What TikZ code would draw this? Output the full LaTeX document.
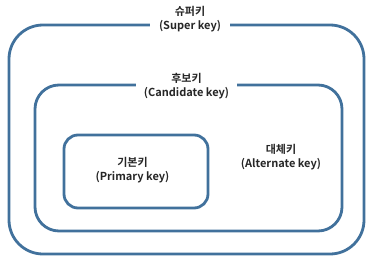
\documentclass[tikz,border=0pt]{standalone}
\usepackage{fontspec}
\setmainfont{Noto Sans CJK KR}[BoldFont={Noto Sans CJK KR Bold}]
\definecolor{boxblue}{HTML}{41719C}
\tikzset{
  keybox/.style={draw=boxblue, line width=2.8pt, inner sep=0pt},
  keylabel/.style={font=\bfseries\fontsize{11}{14}\selectfont, align=center, text=black!85, inner ysep=1pt},
  gaplabel/.style={keylabel, fill=white, inner xsep=6pt}
}
\begin{document}
\begin{tikzpicture}[x=1pt, y=-1pt]
  \useasboundingbox (0,0) rectangle (371,262);
  \node[keybox, minimum width=355pt, minimum height=229pt, rounded corners=34pt] (super) at (186.5,139.5) {};
  \node[keybox, minimum width=307pt, minimum height=146pt, rounded corners=24pt] (cand) at (188.5,158) {};
  \node[keybox, minimum width=144pt, minimum height=73pt, rounded corners=14pt] (prim) at (136,171.5) {};
  \node[gaplabel, inner xsep=9pt] (superlbl) at (190,19) {슈퍼키\\(Super key)};
  \node[gaplabel, inner xsep=8pt] (candlbl) at (186.5,86) {후보키\\(Candidate key)};
  \node[keylabel] (primlbl) at (132.5,170) {기본키\\(Primary key)};
  \node[keylabel] (altlbl) at (281,157) {대체키\\(Alternate key)};
\end{tikzpicture}
\end{document}
